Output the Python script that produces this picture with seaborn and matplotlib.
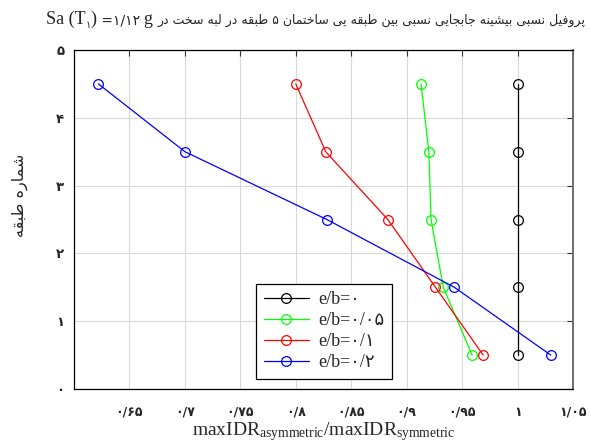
import matplotlib
matplotlib.use("Agg")
import matplotlib.pyplot as plt
import seaborn as sns
import pandas as pd
from matplotlib.transforms import IdentityTransform

# --- data -------------------------------------------------------------
storeys = [0.5, 1.5, 2.5, 3.5, 4.5]
ratio_e0 = [1.000, 1.000, 1.000, 1.000, 1.000]
ratio_e005 = [0.959, 0.933, 0.922, 0.920, 0.913]
ratio_e01 = [0.969, 0.926, 0.883, 0.827, 0.800]
ratio_e02 = [1.030, 0.943, 0.828, 0.700, 0.622]

series_labels = ["e/b=۰", "e/b=۰/۰۵", "e/b=۰/۱", "e/b=۰/۲"]
series_colors = ["#000000", "#00ff00", "#ff0000", "#0000ff"]

x_ticks = [0.65, 0.70, 0.75, 0.80, 0.85, 0.90, 0.95, 1.00, 1.05]
x_tick_labels = ["۰/۶۵", "۰/۷", "۰/۷۵", "۰/۸", "۰/۸۵", "۰/۹", "۰/۹۵", "۱", "۱/۰۵"]
y_ticks = [0, 1, 2, 3, 4, 5]
y_tick_labels = ["۰", "۱", "۲", "۳", "۴", "۵"]

title_fa = "پروفیل نسبی بیشینه جابجایی نسبی بین طبقه یی ساختمان ۵ طبقه در لبه سخت در"
ylabel_fa = "شماره طبقه"

# --- minimal Persian shaping (presentation forms, visual order) -------
# (isolated, final, initial, medial)
_FORMS = {
    "ا": ("\uFE8D", "\uFE8E", None, None),
    "ب": ("\uFE8F", "\uFE90", "\uFE91", "\uFE92"),
    "پ": ("\uFB56", "\uFB57", "\uFB58", "\uFB59"),
    "ت": ("\uFE95", "\uFE96", "\uFE97", "\uFE98"),
    "ج": ("\uFE9D", "\uFE9E", "\uFE9F", "\uFEA0"),
    "خ": ("\uFEA5", "\uFEA6", "\uFEA7", "\uFEA8"),
    "د": ("\uFEA9", "\uFEAA", None, None),
    "ر": ("\uFEAD", "\uFEAE", None, None),
    "س": ("\uFEB1", "\uFEB2", "\uFEB3", "\uFEB4"),
    "ش": ("\uFEB5", "\uFEB6", "\uFEB7", "\uFEB8"),
    "ط": ("\uFEC1", "\uFEC2", "\uFEC3", "\uFEC4"),
    "ف": ("\uFED1", "\uFED2", "\uFED3", "\uFED4"),
    "ق": ("\uFED5", "\uFED6", "\uFED7", "\uFED8"),
    "ل": ("\uFEDD", "\uFEDE", "\uFEDF", "\uFEE0"),
    "م": ("\uFEE1", "\uFEE2", "\uFEE3", "\uFEE4"),
    "ن": ("\uFEE5", "\uFEE6", "\uFEE7", "\uFEE8"),
    "ه": ("\uFEE9", "\uFEEA", "\uFEEB", "\uFEEC"),
    "و": ("\uFEED", "\uFEEE", None, None),
    "ی": ("\uFBFC", "\uFBFD", "\uFBFE", "\uFBFF"),
}


def _dual(c):
    return c in _FORMS and _FORMS[c][2] is not None


def shape_rtl(text):
    out = []
    n = len(text)
    for i, c in enumerate(text):
        if c not in _FORMS:
            out.append(c)
            continue
        prev_c = text[i - 1] if i > 0 else ""
        next_c = text[i + 1] if i < n - 1 else ""
        join_prev = _dual(prev_c)
        join_next = _dual(c) and next_c in _FORMS
        iso, fin, ini, med = _FORMS[c]
        if join_prev and join_next:
            out.append(med)
        elif join_prev:
            out.append(fin)
        elif join_next:
            out.append(ini)
        else:
            out.append(iso)
    return "".join(reversed(out))


# --- style ------------------------------------------------------------
sns.set_style("white")
plt.rcParams["font.family"] = ["Liberation Serif", "DejaVu Sans"]
plt.rcParams["mathtext.fontset"] = "custom"
plt.rcParams["mathtext.rm"] = "Liberation Serif"
plt.rcParams["mathtext.it"] = "Liberation Serif:italic"

W, H = 591, 445
fig = plt.figure(figsize=(W / 100, H / 100), dpi=100)
ax = fig.add_axes([74 / W, 1 - 389 / H, (573 - 74) / W, (389 - 50) / H])

frames = []
for vals, lab in zip([ratio_e0, ratio_e005, ratio_e01, ratio_e02], series_labels):
    frames.append(pd.DataFrame({"ratio": vals, "storey": storeys, "case": lab}))
df = pd.concat(frames, ignore_index=True)

for lab, col in zip(series_labels, series_colors):
    sub = df[df["case"] == lab]
    sns.lineplot(data=sub, x="ratio", y="storey", sort=False, estimator=None,
                 color=col, lw=0.9, marker="o", markersize=7,
                 markerfacecolor="none", markeredgecolor=col,
                 markeredgewidth=0.9, label=lab, ax=ax)

ax.set_xlim(0.6, 1.05)
ax.set_ylim(0, 5)
ax.set_xticks(x_ticks)
ax.set_xticklabels(x_tick_labels, family=["DejaVu Sans"], fontsize=9,
                   fontweight="bold")
ax.set_yticks(y_ticks)
ax.set_yticklabels(y_tick_labels, family=["DejaVu Sans"], fontsize=9.5,
                   fontweight="bold")
ax.tick_params(direction="in", top=True, right=True, length=4, width=0.8,
               color="#333333")
ax.tick_params(axis="x", pad=12)
ax.tick_params(axis="y", pad=7)
ax.grid(True, color="#d9d9d9", lw=0.8)
ax.set_axisbelow(True)
for side in ["left", "bottom", "top"]:
    ax.spines[side].set_color("#000000")
    ax.spines[side].set_linewidth(0.9)
ax.spines["right"].set_color("#6e6e6e")
ax.spines["right"].set_linewidth(1.4)

ax.set_xlabel(r"$\mathrm{maxIDR}_{\mathrm{asymmetric}}/\mathrm{maxIDR}_{\mathrm{symmetric}}$",
              fontsize=14, labelpad=1)
ax.set_ylabel("")

leg = ax.legend(loc="lower left", bbox_to_anchor=(0.365, 0.03), borderaxespad=0,
                fancybox=False, framealpha=1, edgecolor="#000000",
                prop={"family": ["Liberation Serif", "DejaVu Sans"], "size": 13},
                handlelength=2.5, handletextpad=0.5, labelspacing=0.22,
                borderpad=0.42)
leg.get_frame().set_linewidth(0.9)

# --- title, composed left to right in pixel coordinates ----------------
fig.canvas.draw()
renderer = fig.canvas.get_renderer()
px = IdentityTransform()
base_y = H - 24
x = 46.0
right_edge = 586.0


def put(s, size, dy=0.0, family=("Liberation Serif", "DejaVu Sans")):
    global x
    t = fig.text(x, base_y + dy, s, transform=px, fontsize=size,
                 family=list(family), va="baseline", ha="left")
    w = t.get_window_extent(renderer).width
    x += w
    return t, w


put("Sa (T", 13)
put("۱", 7, dy=-4, family=("DejaVu Sans",))
put(")", 13)
put(" =۱/۱۲ ", 10, family=("DejaVu Sans",))
put("g ", 13)
fa_text, fa_w = put(shape_rtl(title_fa), 10, family=("DejaVu Sans",))
avail = right_edge - (x - fa_w)
fa_text.set_fontsize(10 * avail / fa_w)

fig.text(20, H - 195, shape_rtl(ylabel_fa), transform=px, rotation=90,
         fontsize=11.5, family=["DejaVu Sans"], ha="center", va="center")

fig.savefig("out.png", dpi=100)
